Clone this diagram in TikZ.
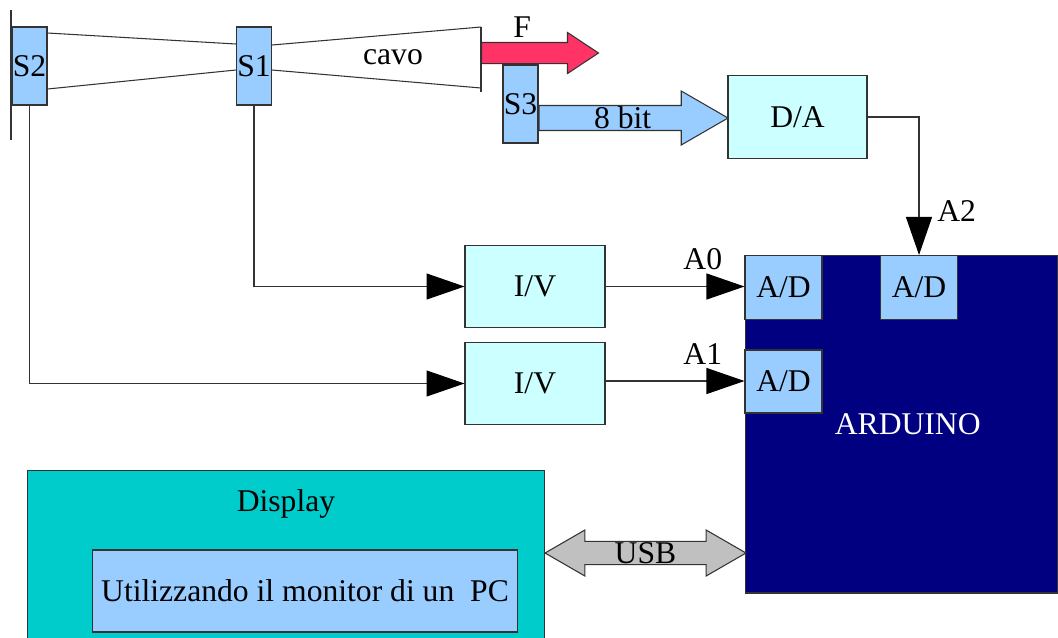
\documentclass[tikz,border=0pt]{standalone}
\usepackage{fontspec}
\setmainfont{Liberation Serif}
\usetikzlibrary{arrows.meta, shapes.arrows, positioning, calc}
\definecolor{sensblue}{RGB}{153,204,255}
\definecolor{palecyan}{RGB}{204,255,255}
\definecolor{dispcyan}{RGB}{0,204,204}
\definecolor{ardnavy}{RGB}{0,0,128}
\definecolor{forcered}{RGB}{255,51,102}
\definecolor{usbgrey}{RGB}{192,192,192}
\definecolor{edge}{RGB}{51,51,51}

\tikzset{
  blk/.style={draw=edge, line width=0.6pt, inner sep=0pt, align=center},
  sensbox/.style={blk, fill=sensblue, minimum width=0.7cm, minimum height=1.56cm},
  convbox/.style={blk, fill=palecyan, minimum width=2.8cm, minimum height=1.65cm},
  adbox/.style={blk, fill=sensblue, minimum width=1.54cm, minimum height=1.28cm},
  wire/.style={draw=edge, line width=0.6pt},
  sig/.style={wire, -{Triangle[length=0.76cm, width=0.52cm, color=black]}},
  fatarrow/.style={single arrow, draw=edge, line width=0.6pt, inner sep=0pt},
}

\begin{document}
\begin{tikzpicture}[x=0.02cm, y=-0.02cm, font=\fontsize{18}{21}\selectfont]
  \useasboundingbox (0,0) rectangle (1058,637);

  % cavo e sensori
  \draw[wire] (11,10) -- (11,140);
  \node[sensbox] (S2) at (29.5,66) {S2};
  \node[sensbox] (S1) at (254,66) {S1};
  \coordinate (cavotop) at (481,27);
  \coordinate (cavobot) at (481,88);
  \draw[wire] (S2.east |- 0,33) -- (S1.west |- 0,44);
  \draw[wire] (S2.east |- 0,89) -- (S1.west |- 0,70);
  \draw[wire] (S1.east |- 0,45) -- (cavotop);
  \draw[wire] (S1.east |- 0,70) -- (cavobot);
  \draw[wire] (cavotop) -- (481,92);
  \node (cavo) at (393,57) {cavo};

  % forza e S3
  \node[fatarrow, fill=forcered, inner ysep=0.2cm, minimum height=2.34cm,
        single arrow head extend=0.2cm, single arrow tip angle=67,
        anchor=tail, label={[xshift=-0.2cm, yshift=-0.04cm]above:F}] (force) at (481,53) {};
  \node[sensbox] (S3) at (520.5,104) {S3};
  \node[fatarrow, fill=sensblue, minimum height=3.78cm, minimum width=1.08cm,
        single arrow head extend=0.27cm, single arrow tip angle=60,
        anchor=tail] (bus) at ($(S3.east)+(0,14)$) {8 bit};
  \node[convbox, minimum width=2.78cm] (DA) at (797.5,117) {D/A};

  % Arduino
  \node[blk, fill=ardnavy, text=white, minimum width=6.26cm, minimum height=6.76cm]
    (ARD) at (901.5,424) {\hspace{0.25cm}ARDUINO};
  \node[adbox] (AD0) at (783.5,287.5) {A/D};
  \node[adbox] (AD2) at (919,287.5) {A/D};
  \node[adbox, minimum height=1.26cm] (AD1) at (783.5,381.5) {A/D};

  % convertitori I/V
  \node[convbox] (IV1) at (535,286.5) {I/V};
  \node[convbox] (IV2) at (535,383.5) {I/V};

  \draw[sig] (S1.south) |- (IV1.west);
  \draw[sig] (S2.south) |- (IV2.west);
  \draw[sig] (IV1.east) -- node[above, pos=0.7, yshift=0.2cm] {A0} (IV1.east -| AD0.west);
  \draw[sig] (IV2.east |- 0,381) -- node[above, pos=0.7, yshift=0.2cm] {A1} (AD1.west |- 0,381);
  \draw[sig] (DA.east) -| node[right, pos=0.84, xshift=0.24cm] {A2} (AD2.north);

  % display
  \node[blk, fill=dispcyan, minimum width=10.36cm, minimum height=3.5cm,
        label={[anchor=north, inner sep=0pt, yshift=-0.4cm]north:Display}] (disp) at (286,557.5) {};
  \node[blk, fill=sensblue, minimum width=8.52cm, minimum height=1.64cm] (pc) at (305,591)
    {Utilizzando il monitor di un~ PC};
  \node[double arrow, draw=edge, line width=0.6pt, inner sep=0pt, fill=usbgrey,
        minimum height=4.02cm, minimum width=0.92cm,
        double arrow head extend=0.22cm, double arrow tip angle=60] (usb) at (645.5,553) {USB};
\end{tikzpicture}
\end{document}
